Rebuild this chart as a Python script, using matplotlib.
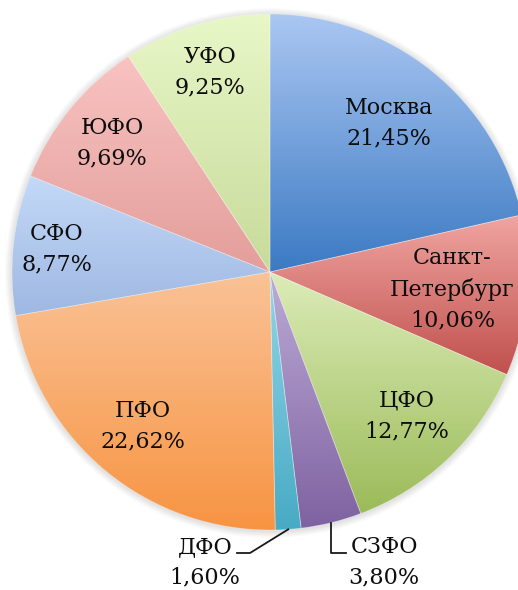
import numpy as np
import matplotlib
matplotlib.use("Agg")
import matplotlib.pyplot as plt
from matplotlib.colors import LinearSegmentedColormap
from matplotlib.patches import Circle

labels = ["Москва", "Санкт-\nПетербург", "ЦФО", "СЗФО", "ДФО", "ПФО", "СФО", "ЮФО", "УФО"]
shares = [21.45, 10.06, 12.77, 3.80, 1.60, 22.62, 8.77, 9.69, 9.25]
pct_text = ["21,45%", "10,06%", "12,77%", "3,80%", "1,60%", "22,62%", "8,77%", "9,69%", "9,25%"]
# gradient (top colour, bottom colour) per slice
tops = ["#abc7f2", "#f0a5a1", "#dcecb8", "#bcabd6", "#92d6e8", "#fac296", "#c3d9f8", "#f8c3c1", "#e8f7c7"]
bottoms = ["#3b7ac3", "#c0504d", "#9bbb59", "#7f62a1", "#48aac4", "#f79442", "#9fb8e2", "#e39e9b", "#c8da9b"]

W, H = 518, 590
CX, CY, R = 270, 590 - 272, 258
# radial position of the inside labels (fraction of radius); None -> outside label
lab_r = [0.74, 0.71, 0.77, None, None, 0.775, 0.83, 0.79, 0.81]

fig = plt.figure(figsize=(W / 100, H / 100), dpi=100)
ax = fig.add_axes([0, 0, 1, 1])
ax.set_xlim(0, W); ax.set_ylim(0, H); ax.set_aspect("equal"); ax.axis("off")

# soft shadow round the pie
for i in range(10, 0, -1):
    ax.add_patch(Circle((CX, CY - 1), R + i * 0.7, color="#000000", alpha=0.012, lw=0, zorder=0))

wedges, _ = ax.pie(shares, startangle=90, counterclock=False, center=(CX, CY), radius=R,
                   colors=bottoms, wedgeprops=dict(lw=0.6, edgecolor=(1, 1, 1, 0.3)), frame=True)
ax.set_xlim(0, W); ax.set_ylim(0, H); ax.axis("off")

grad = np.linspace(0, 1, 256).reshape(-1, 1)
for w, t, b in zip(wedges, tops, bottoms):
    bb = w.get_path().get_extents(w.get_patch_transform())
    cm = LinearSegmentedColormap.from_list("g", [t, b])
    im = ax.imshow(grad, cmap=cm, extent=(bb.x0, bb.x1, bb.y0, bb.y1), origin="upper",
                   aspect="auto", interpolation="bicubic", zorder=1)
    im.set_clip_path(w)
    w.set_facecolor("none"); w.set_zorder(2)

ax.set_xlim(0, W); ax.set_ylim(0, H)

font = dict(family="DejaVu Serif", fontsize=16, color="#0d0d0d", linespacing=1.5, ha="center", va="center")
for w, lab, pt, fr in zip(wedges, labels, pct_text, lab_r):
    if fr is None:
        continue
    th = np.radians((w.theta1 + w.theta2) / 2)
    ax.text(CX + fr * R * np.cos(th), CY + fr * R * np.sin(th), lab + "\n" + pt, zorder=5, **font)

# outside labels with leader lines (ДФО, СЗФО)
def edge(w):
    th = np.radians((w.theta1 + w.theta2) / 2)
    return CX + R * np.cos(th), CY + R * np.sin(th)

ex, ey = edge(wedges[4])
ax.plot([ex, 250, 237], [ey, H - 553, H - 553], color="#1a1a1a", lw=1.3, zorder=5)
ax.text(205, H - 562, labels[4] + "\n" + pct_text[4], zorder=5, **font)

ex, ey = edge(wedges[3])
ax.plot([ex, ex, ex + 15], [ey, H - 553, H - 553], color="#1a1a1a", lw=1.3, zorder=5)
ax.text(384, H - 562, labels[3] + "\n" + pct_text[3], zorder=5, **font)

fig.savefig("out.png", dpi=100, facecolor="white")
